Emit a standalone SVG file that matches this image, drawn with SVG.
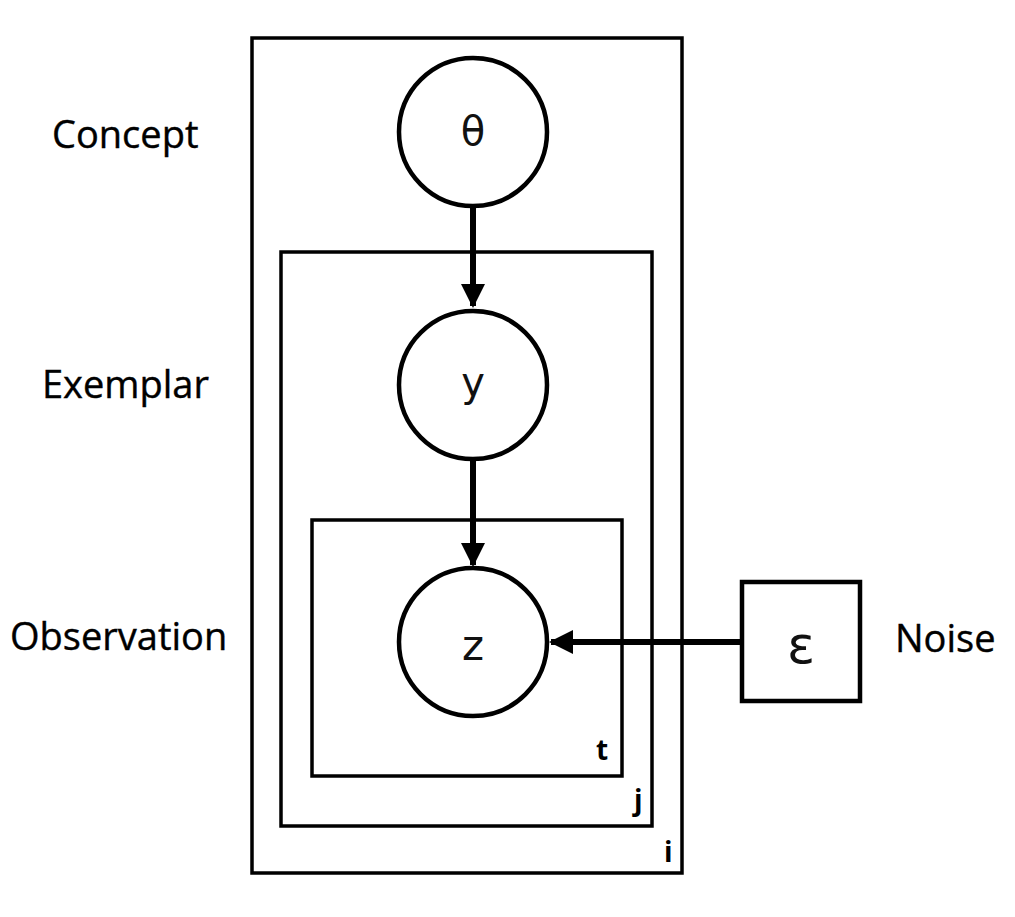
<svg xmlns="http://www.w3.org/2000/svg" width="1015" height="917" viewBox="0 0 1015 917">
<style>
.plate{fill:none;stroke:#000;stroke-width:3.5}
.node{fill:#fff;stroke:#000;stroke-width:4.5}
.lbl{font-family:"Open Sans","Liberation Sans",sans-serif;font-size:38px;fill:#000;stroke:#000;stroke-width:0.4}
.sym{font-family:"DejaVu Sans","Liberation Sans",sans-serif;fill:#111;text-anchor:middle}
.idx{font-family:"Open Sans","Liberation Sans",sans-serif;font-size:28px;font-weight:bold;fill:#000}
.edge{stroke:#000;stroke-width:6;fill:none}
</style>
<defs>
<marker id="ah" markerUnits="userSpaceOnUse" markerWidth="24" markerHeight="24" viewBox="0 0 24 24" refX="22" refY="12" orient="auto">
<path d="M0,0 L24,12 L0,24 Z" fill="#000"/>
</marker>
</defs>
<g id="plate-i"><rect class="plate" x="252" y="38" width="430" height="835"/><text class="idx" x="664" y="862">i</text></g>
<g id="plate-j"><rect class="plate" x="281" y="252" width="371" height="574"/><text class="idx" x="634" y="810">j</text></g>
<g id="plate-t"><rect class="plate" x="312" y="520" width="310" height="256"/><text class="idx" x="596" y="760">t</text></g>
<g id="connectors">
<line class="edge" x1="473" y1="208" x2="473" y2="306" marker-end="url(#ah)"/>
<line class="edge" x1="473" y1="461" x2="473" y2="565" marker-end="url(#ah)"/>
<line class="edge" x1="740" y1="642" x2="551" y2="642" marker-end="url(#ah)"/>
</g>
<g id="node-theta"><circle class="node" cx="473" cy="132" r="74"/><text class="sym" x="473" y="145" font-size="40">θ</text></g>
<g id="node-y"><circle class="node" cx="473" cy="385" r="74"/><text class="sym" x="473" y="396" font-size="40">y</text></g>
<g id="node-z"><circle class="node" cx="473" cy="642" r="74"/><text class="sym" x="473" y="660" font-size="42">z</text></g>
<g id="node-eps"><rect class="node" x="742" y="582" width="118" height="119"/><text class="sym" x="801" y="663" font-size="52">ε</text></g>
<g id="labels">
<text class="lbl" x="52" y="148">Concept</text>
<text class="lbl" x="42" y="398">Exemplar</text>
<text class="lbl" x="10" y="650">Observation</text>
<text class="lbl" x="895" y="652">Noise</text>
</g>
</svg>
